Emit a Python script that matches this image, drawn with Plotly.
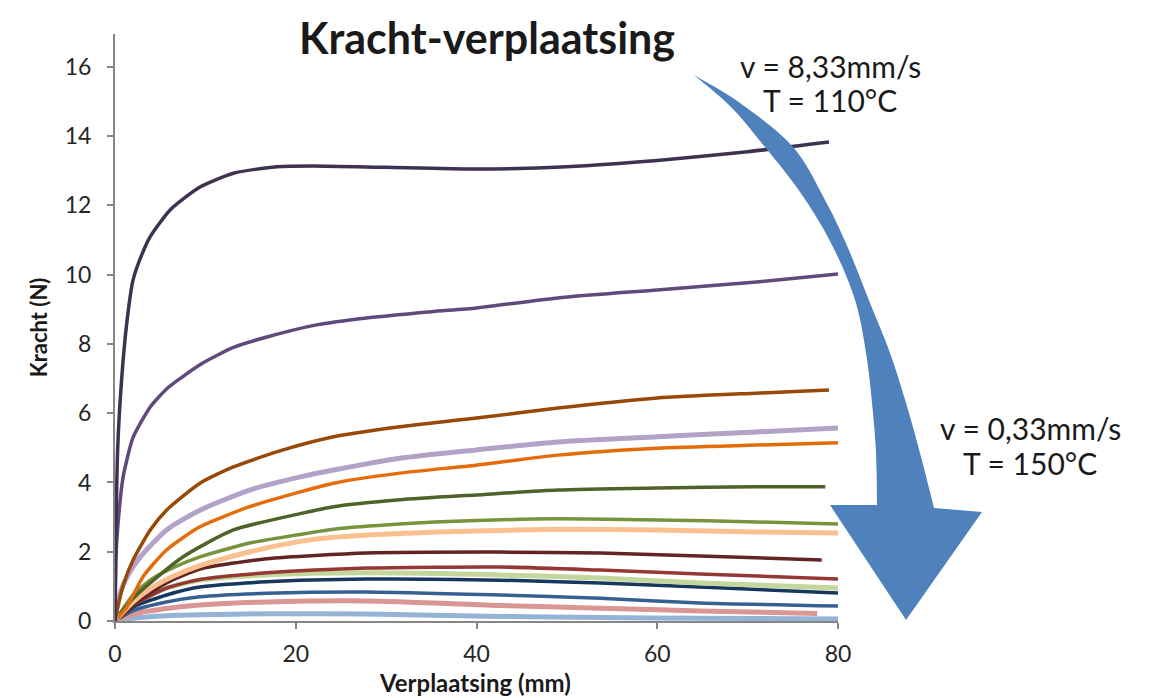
import plotly.graph_objects as go
import numpy as np

# ---- data ----
x_ticks = [0, 20, 40, 60, 80]
y_ticks = [0, 2, 4, 6, 8, 10, 12, 14, 16]

s1_x = [0, 0.1, 0.3, 0.74, 1.3, 2.0, 3.0, 3.9, 6.1, 9.4, 13.1, 17.9, 22, 30, 40, 50, 60, 70, 79]
s1_y = [0, 2.5, 5.0, 7.0, 8.6, 9.85, 10.6, 11.1, 11.87, 12.53, 12.93, 13.12, 13.14, 13.1, 13.05, 13.12, 13.3, 13.55, 13.83]

s2_x = [0, 0.1, 0.3, 0.9, 2, 3.9, 5.7, 7.2, 9.4, 13.1, 16.8, 22.3, 27.8, 35, 40, 49, 60, 71, 80]
s2_y = [0, 1.8, 2.7, 4.16, 5.3, 6.18, 6.7, 7.0, 7.4, 7.9, 8.2, 8.55, 8.75, 8.93, 9.04, 9.33, 9.56, 9.79, 10.02]

s3_x = [0, 0.3, 1.0, 2, 3.9, 5.7, 9.4, 13.1, 18.6, 24.2, 31.5, 40, 49, 60, 71, 79]
s3_y = [0, 0.4, 1.1, 1.76, 2.63, 3.2, 3.98, 4.45, 4.94, 5.32, 5.61, 5.86, 6.15, 6.44, 6.58, 6.67]

s4_x = [0, 0.55, 1.5, 2.8, 5.7, 9.4, 14.9, 20.5, 24.2, 31.5, 40, 49, 60, 71, 80]
s4_y = [0, 0.8, 1.35, 1.85, 2.63, 3.2, 3.78, 4.16, 4.36, 4.7, 4.94, 5.17, 5.32, 5.46, 5.57]

s5_x = [0, 1.3, 3.1, 5.7, 9.4, 14.9, 20.5, 24.2, 31.5, 40, 49, 60, 71, 80]
s5_y = [0, 0.4, 1.28, 2.05, 2.72, 3.3, 3.73, 3.98, 4.27, 4.5, 4.79, 4.99, 5.08, 5.15]

s6_x = [0, 1, 2, 3.9, 7.5, 13.1, 20.5, 24.2, 31.5, 40, 49, 60, 71, 78.6]
s6_y = [0, 0.35, 0.65, 1.1, 1.85, 2.63, 3.1, 3.3, 3.5, 3.64, 3.78, 3.84, 3.88, 3.88]

s7_x = [0, 2, 4, 6.5, 9.4, 14.9, 20.5, 24.2, 31.5, 40, 49, 60, 71, 80]
s7_y = [0, 0.75, 1.2, 1.55, 1.85, 2.25, 2.5, 2.65, 2.8, 2.9, 2.95, 2.92, 2.86, 2.8]

s8_x = [0, 2, 4, 6.5, 9.4, 14.9, 20.5, 24.2, 31.5, 40, 49, 60, 71, 80]
s8_y = [0, 0.55, 0.95, 1.3, 1.6, 2.0, 2.3, 2.42, 2.53, 2.6, 2.65, 2.63, 2.57, 2.54]

s9_x = [0, 1, 2.5, 5.7, 9.4, 16.8, 27.9, 42.6, 53.7, 64.7, 78.2]
s9_y = [0, 0.2, 0.55, 1.1, 1.5, 1.8, 1.96, 1.99, 1.96, 1.88, 1.76]

s10_x = [0, 2, 5.7, 9.4, 16.8, 27.9, 42.6, 53.7, 64.7, 80]
s10_y = [0, 0.45, 0.95, 1.2, 1.39, 1.53, 1.56, 1.47, 1.36, 1.21]

s11_x = [0, 2, 5.7, 9.4, 16.8, 27.9, 42.6, 53.7, 64.7, 80]
s11_y = [0, 0.5, 0.95, 1.18, 1.33, 1.39, 1.33, 1.24, 1.1, 0.95]

s12_x = [0, 2, 5.7, 9.4, 16.8, 27.9, 42.6, 53.7, 64.7, 80]
s12_y = [0, 0.4, 0.75, 0.98, 1.13, 1.21, 1.18, 1.1, 0.98, 0.81]

s13_x = [0, 2, 5.7, 9.4, 16.8, 27.9, 42.6, 53.7, 64.7, 80]
s13_y = [0, 0.3, 0.55, 0.7, 0.8, 0.84, 0.75, 0.66, 0.52, 0.43]

s14_x = [0, 2, 5.7, 9.4, 16.8, 27.9, 42.6, 53.7, 64.7, 77.7]
s14_y = [0, 0.2, 0.36, 0.46, 0.55, 0.58, 0.45, 0.37, 0.29, 0.22]

s15_x = [0, 2, 5.7, 9.4, 16.8, 27.9, 42.6, 53.7, 64.7, 80]
s15_y = [0, 0.08, 0.15, 0.18, 0.21, 0.2, 0.13, 0.1, 0.08, 0.06]

series = [
    (s15_x, s15_y, "#95B3D7", 5),
    (s14_x, s14_y, "#D99694", 5),
    (s13_x, s13_y, "#376092", 3.5),
    (s12_x, s12_y, "#17375E", 3.5),
    (s11_x, s11_y, "#C3D69B", 5),
    (s10_x, s10_y, "#953735", 3.5),
    (s9_x, s9_y, "#632523", 3.5),
    (s8_x, s8_y, "#FAC090", 5),
    (s7_x, s7_y, "#77933C", 3.5),
    (s6_x, s6_y, "#4F6228", 3.5),
    (s5_x, s5_y, "#E46C0A", 3.5),
    (s4_x, s4_y, "#B3A2C7", 5),
    (s3_x, s3_y, "#984807", 3.5),
    (s2_x, s2_y, "#604A7B", 3.5),
    (s1_x, s1_y, "#3F3151", 3.5),
]

# page body has an 8px margin: work in screen pixels, convert to figure
OFF = 8
W, H = 1157 - 2 * OFF, 698 - OFF
SX0, SX1, SY0, SY1 = 115, 838, 34, 621      # plot area in screen pixels
L, R = SX0 - OFF, W - (SX1 - OFF)
T, B = SY0 - OFF, H - (SY1 - OFF)
PW, PH = SX1 - SX0, SY1 - SY0

fig = go.Figure()
for xs, ys, c, w in series:
    fig.add_trace(go.Scatter(x=xs, y=ys, mode="lines",
                             line=dict(color=c, width=w, shape="spline", smoothing=0.6),
                             showlegend=False, hoverinfo="skip"))

def to_paper(px, py):
    return (px - SX0) / PW, (SY1 - py) / PH

def catmull(pts, n=12):
    pts = np.array(pts, dtype=float)
    P = np.vstack([pts[0], pts, pts[-1]])
    out = []
    for i in range(1, len(P) - 2):
        p0, p1, p2, p3 = P[i - 1], P[i], P[i + 1], P[i + 2]
        for t in np.linspace(0, 1, n, endpoint=False):
            t2, t3 = t * t, t * t * t
            out.append(0.5 * ((2 * p1) + (-p0 + p2) * t + (2 * p0 - 5 * p1 + 4 * p2 - p3) * t2
                              + (-p0 + 3 * p1 - 3 * p2 + p3) * t3))
    out.append(pts[-1])
    return out

outer = [(694, 75), (740, 103), (793, 147), (825, 200), (848, 248), (870, 303), (890, 353), (906, 403), (920, 453), (934, 508)]
inner = [(694, 75), (730, 106), (760, 141), (800, 192), (832, 245), (855, 300), (866, 353), (872, 403), (876, 453), (877, 505)]
head = [(982, 512), (906, 620), (830, 505)]

poly = catmull(outer) + [np.array(p, float) for p in head] + catmull(inner)[::-1]
path = ""
for i, (px, py) in enumerate(poly):
    xp, yp = to_paper(px, py)
    path += ("M" if i == 0 else "L") + f"{xp:.4f},{yp:.4f} "
path += "Z"
fig.add_shape(type="path", xref="paper", yref="paper", path=path,
              fillcolor="#4F81BD", line=dict(width=0), layer="above")

font_main = "Lato, Carlito, 'Open Sans', sans-serif"

def ann(text, px, py, size, bold=False):
    xp, yp = to_paper(px, py)
    fig.add_annotation(x=xp, y=yp, xref="paper", yref="paper", text=f"<b>{text}</b>" if bold else text,
                       showarrow=False, font=dict(family=font_main, size=size, color="#1a1a1a"),
                       xanchor="center", yanchor="middle")

ann("Kracht-verplaatsing", 487, 37, 43, bold=True)
ann("v = 8,33mm/s", 830, 66, 30)
ann("T = 110°C", 830, 100, 30)
ann("v = 0,33mm/s", 1030, 428, 30)
ann("T = 150°C", 1030, 463, 30)
ann("Verplaatsing (mm)", 475, 682, 24, bold=True)   # x-axis title

axis_common = dict(showline=True, linecolor="#868686", linewidth=2, ticks="outside",
                   tickcolor="#868686", tickwidth=2, ticklen=6, showgrid=False, zeroline=False,
                   tickfont=dict(family=font_main, size=23, color="#262626"))

fig.update_xaxes(range=[0, 80], tickvals=x_ticks, ticklabelstandoff=5, **axis_common)
fig.update_yaxes(range=[0, 16.95], tickvals=y_ticks, ticklabelstandoff=11, **axis_common,
                 title=dict(text="<b>Kracht (N)</b>", standoff=11,
                            font=dict(family=font_main, size=22, color="#1a1a1a")))

fig.update_layout(width=W, height=H, margin=dict(l=L, r=R, t=T, b=B, autoexpand=False),
                  plot_bgcolor="white", paper_bgcolor="white")

fig.write_html("out.html")
